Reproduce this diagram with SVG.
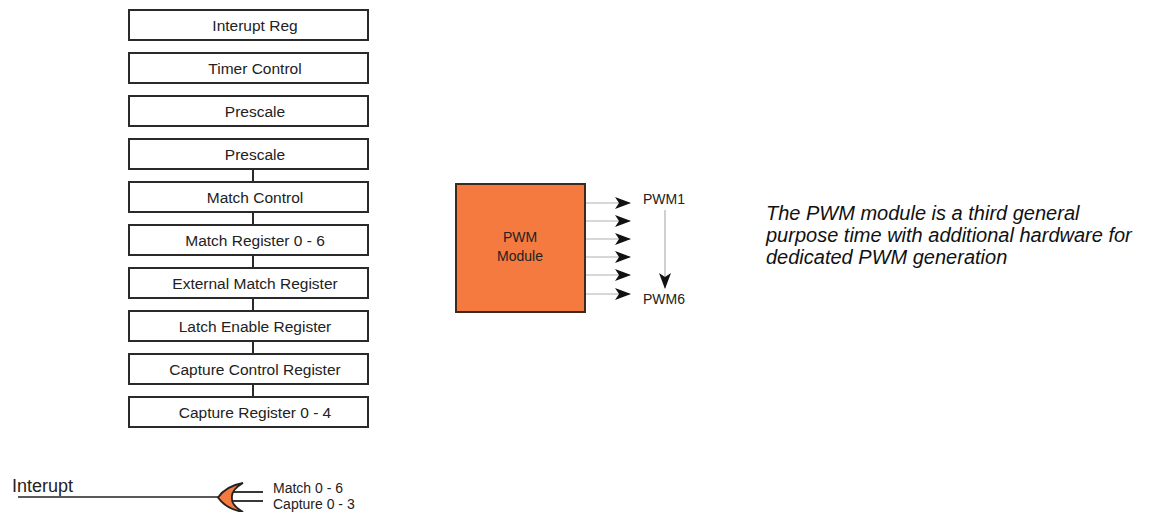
<svg xmlns="http://www.w3.org/2000/svg" width="1159" height="512" viewBox="0 0 1159 512">
<style>
.box{fill:#fff;stroke:#2a2a2a;stroke-width:2}
.bt{font-family:"Liberation Sans",Arial,sans-serif;font-size:15.5px;fill:#222;text-anchor:middle}
.conn{stroke:#2a2a2a;stroke-width:2;fill:none}
.gl{stroke:#b0b0b0;stroke-width:1.2;fill:none}
.lbl{font-family:"Liberation Sans",Arial,sans-serif;font-size:14px;fill:#222}
.it{font-family:"Liberation Sans",Arial,sans-serif;font-size:20px;font-style:italic;fill:#111}
</style>
<defs>
<marker id="ah" viewBox="0 0 16 12" refX="15" refY="6" markerWidth="16" markerHeight="12" markerUnits="userSpaceOnUse" orient="auto">
<path d="M0,0 L16,6 L0,12 L4,6 Z" fill="#111"/>
</marker>
</defs>
<rect width="1159" height="512" fill="#fff"/>
<g id="connectors">
<line class="conn" x1="253" y1="169" x2="253" y2="182"/>
<line class="conn" x1="253" y1="212" x2="253" y2="225"/>
<line class="conn" x1="253" y1="255" x2="253" y2="268"/>
<line class="conn" x1="253" y1="298" x2="253" y2="311"/>
<line class="conn" x1="253" y1="341" x2="253" y2="354"/>
<line class="conn" x1="253" y1="384" x2="253" y2="397"/>
<line class="gl" x1="585" y1="203" x2="630" y2="203" marker-end="url(#ah)"/>
<line class="gl" x1="585" y1="221" x2="630" y2="221" marker-end="url(#ah)"/>
<line class="gl" x1="585" y1="239" x2="630" y2="239" marker-end="url(#ah)"/>
<line class="gl" x1="585" y1="257" x2="630" y2="257" marker-end="url(#ah)"/>
<line class="gl" x1="585" y1="275" x2="630" y2="275" marker-end="url(#ah)"/>
<line class="gl" x1="585" y1="294" x2="630" y2="294" marker-end="url(#ah)"/>
<line class="gl" x1="665" y1="210" x2="665" y2="288" marker-end="url(#ah)"/>
<line x1="18" y1="497" x2="222" y2="497" stroke="#222" stroke-width="1.5"/>
<line x1="232" y1="492" x2="263" y2="492" stroke="#222" stroke-width="1.8"/>
<line x1="232" y1="501" x2="263" y2="501" stroke="#222" stroke-width="1.8"/>
</g>
<g id="n1"><rect class="box" x="129" y="10" width="239" height="30"/><text class="bt" x="255" y="30.5">Interupt Reg</text></g>
<g id="n2"><rect class="box" x="129" y="53" width="239" height="30"/><text class="bt" x="255" y="73.5">Timer Control</text></g>
<g id="n3"><rect class="box" x="129" y="96" width="239" height="30"/><text class="bt" x="255" y="116.5">Prescale</text></g>
<g id="n4"><rect class="box" x="129" y="139" width="239" height="30"/><text class="bt" x="255" y="159.5">Prescale</text></g>
<g id="n5"><rect class="box" x="129" y="182" width="239" height="30"/><text class="bt" x="255" y="202.5">Match Control</text></g>
<g id="n6"><rect class="box" x="129" y="225" width="239" height="30"/><text class="bt" x="255" y="245.5">Match Register 0 - 6</text></g>
<g id="n7"><rect class="box" x="129" y="268" width="239" height="30"/><text class="bt" x="255" y="288.5">External Match Register</text></g>
<g id="n8"><rect class="box" x="129" y="311" width="239" height="30"/><text class="bt" x="255" y="331.5">Latch Enable Register</text></g>
<g id="n9"><rect class="box" x="129" y="354" width="239" height="30"/><text class="bt" x="255" y="374.5">Capture Control Register</text></g>
<g id="n10"><rect class="box" x="129" y="397" width="239" height="30"/><text class="bt" x="255" y="417.5">Capture Register 0 - 4</text></g>
<g id="pwm">
<rect x="456" y="184" width="129" height="128" fill="#F47A40" stroke="#3a2a20" stroke-width="2"/>
<text class="lbl" x="520" y="242" text-anchor="middle" fill="#333">PWM</text>
<text class="lbl" x="520" y="261" text-anchor="middle" fill="#333">Module</text>
</g>
<g id="pwm1"><text class="lbl" x="643" y="204">PWM1</text></g>
<g id="pwm6"><text class="lbl" x="643" y="304">PWM6</text></g>
<g id="note">
<text class="it" x="766" y="220">The PWM module is a third general</text>
<text class="it" x="766" y="242">purpose time with additional hardware for</text>
<text class="it" x="766" y="264">dedicated PWM generation</text>
</g>
<g id="interupt"><text x="12" y="492" font-family="Liberation Sans, Arial, sans-serif" font-size="18px" fill="#222">Interupt</text></g>
<g id="gate">
<path d="M243,483 Q226,486 218,497.5 Q226,509 243,512 Q231,505 232,497.5 Q231,490 243,483 Z" fill="#F47A40" stroke="#222" stroke-width="1.8"/>
</g>
<g id="inputs">
<text class="lbl" x="273" y="493">Match 0 - 6</text>
<text class="lbl" x="273" y="509">Capture 0 - 3</text>
</g>
</svg>
